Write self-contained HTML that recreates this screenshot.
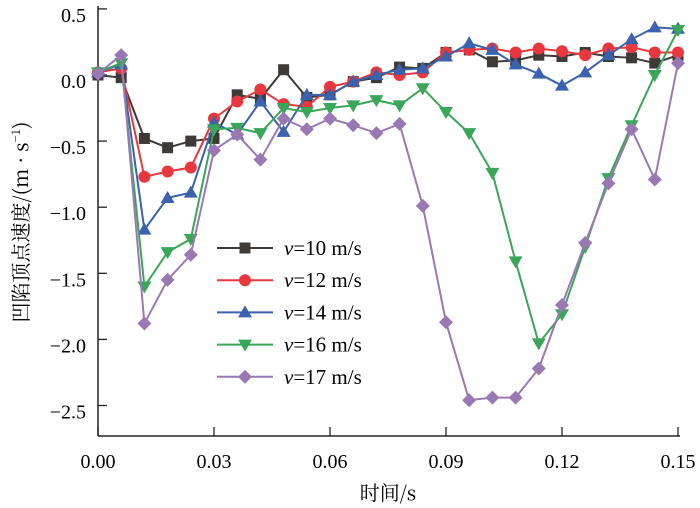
<!DOCTYPE html>
<html><head><meta charset="utf-8"><style>
body{margin:0;background:#fff}
svg{display:block}
text{font-family:"Liberation Serif","DejaVu Serif","Noto Serif CJK SC",serif}
.cjk{font-family:"Noto Serif CJK SC","Liberation Serif",serif}
</style></head><body>
<svg width="700" height="508" viewBox="0 0 700 508" font-family="Liberation Serif, serif">
<g id="axes"></g><g id="series"></g><g id="legend"></g>
<text class="cjk" x="388" y="500" text-anchor="middle" font-size="20">时间/s</text>
<text class="cjk" transform="translate(28,222) rotate(-90)" text-anchor="middle" font-size="20">凹陷顶点速度/(m · s<tspan dy="-8" font-size="12">−1</tspan><tspan dy="8">)</tspan></text>
</svg>
<script>
const times=[0,0.006,0.012,0.018,0.024,0.030,0.036,0.042,0.048,0.054,0.060,0.066,0.072,0.078,0.084,0.090,0.096,0.102,0.108,0.114,0.120,0.126,0.132,0.138,0.144,0.150];
const v10=[0,-0.02,-0.48,-0.55,-0.5,-0.48,-0.15,-0.18,0.04,-0.17,-0.15,-0.05,-0.02,0.06,0.05,0.17,0.19,0.1,0.11,0.15,0.14,0.17,0.14,0.13,0.09,0.15];
const v12=[0.02,0.05,-0.77,-0.73,-0.7,-0.33,-0.2,-0.11,-0.22,-0.24,-0.09,-0.05,0.02,0,0.02,0.17,0.19,0.2,0.17,0.2,0.18,0.15,0.2,0.21,0.17,0.17];
const v14=[0.02,0.08,-1.17,-0.93,-0.89,-0.36,-0.45,-0.2,-0.43,-0.15,-0.15,-0.05,0,0.04,0.05,0.14,0.24,0.19,0.08,0.01,-0.08,0.02,0.15,0.27,0.36,0.35];
const v16=[0.02,0.09,-1.6,-1.34,-1.24,-0.41,-0.4,-0.44,-0.25,-0.28,-0.25,-0.23,-0.19,-0.23,-0.1,-0.28,-0.44,-0.74,-1.41,-2.03,-1.81,-1.3,-0.78,-0.38,0,0.34];
const v17=[0.01,0.15,-1.88,-1.55,-1.36,-0.57,-0.45,-0.64,-0.33,-0.41,-0.33,-0.38,-0.44,-0.37,-0.99,-1.87,-2.46,-2.44,-2.44,-2.22,-1.74,-1.27,-0.82,-0.41,-0.79,0.09];
const seriesLabels=["10","12","14","16","17"];
const xTicks=[0,0.03,0.06,0.09,0.12,0.15];
const xTickLabels=["0.00","0.03","0.06","0.09","0.12","0.15"];
const yTicks=[0.5,0,-0.5,-1,-1.5,-2,-2.5];
const yTickLabels=["0.5","0.0","−0.5","−1.0","−1.5","−2.0","−2.5"];
const NS="http://www.w3.org/2000/svg";
const X=t=>98+t/0.15*580;
const Y=v=>75-v*132.2;
function mk(tag,attrs,parent){const e=document.createElementNS(NS,tag);for(const k in attrs)e.setAttribute(k,attrs[k]);parent.appendChild(e);return e;}
const ax=document.getElementById('axes');
let l=mk('line',{x1:98,y1:6,x2:98,y2:436,stroke:'#222','stroke-width':1.5},ax);


l=mk('line',{x1:98,y1:436,x2:680,y2:436,stroke:'#222','stroke-width':1.5},ax);


xTicks.forEach((t,i)=>{
 mk('line',{x1:X(t),y1:436,x2:X(t),y2:427,stroke:'#222','stroke-width':1.3},ax);
 const tx=mk('text',{x:X(t),y:468,'text-anchor':'middle','font-size':20},ax);tx.textContent=xTickLabels[i];
 
 
});
yTicks.forEach((v,i)=>{
 mk('line',{x1:98,y1:Y(v),x2:107,y2:Y(v),stroke:'#222','stroke-width':1.3},ax);
 const tx=mk('text',{x:86,y:Y(v)+13,'text-anchor':'end','font-size':20},ax);tx.textContent=yTickLabels[i];
 
 
});
const colors=['#3d3a38','#e8383d','#3a62ad','#3aa65a','#9a78b4'];
const shapes=['square','circle','tri','tridown','diamond'];
const data=[v10,v12,v14,v16,v17];
function marker(shape,x,y,c,p){
 if(shape==='square')return mk('rect',{x:x-5.5,y:y-5.5,width:11,height:11,fill:c},p);
 if(shape==='circle')return mk('circle',{cx:x,cy:y,r:6,fill:c},p);
 if(shape==='tri')return mk('polygon',{points:`${x},${y-7} ${x-7},${y+5} ${x+7},${y+5}`,fill:c},p);
 if(shape==='tridown')return mk('polygon',{points:`${x},${y+7} ${x-7},${y-5} ${x+7},${y-5}`,fill:c},p);
 return mk('polygon',{points:`${x},${y-7} ${x+7},${y} ${x},${y+7} ${x-7},${y}`,fill:c},p);
}
const sg=document.getElementById('series'),lg=document.getElementById('legend');
data.forEach((vals,s)=>{
 const g=mk('g',{},sg);
 
 
 mk('polyline',{points:vals.map((v,i)=>X(times[i])+','+Y(v)).join(' '),fill:'none',stroke:colors[s],'stroke-width':2},g);
 vals.forEach((v,i)=>{const m=marker(shapes[s],X(times[i]),Y(v),colors[s],g);
  
  });
 const ly=248+s*32.2;
 const le=mk('g',{},lg);
 
 
 mk('line',{x1:217,y1:ly,x2:273,y2:ly,stroke:colors[s],'stroke-width':2},le);
 marker(shapes[s],245,ly,colors[s],le);
 const t=mk('text',{x:284,y:ly+7,'font-size':21},le);
 t.innerHTML='<tspan font-style="italic">v</tspan>=' + seriesLabels[s] + ' m/s';
});
</script>
</body></html>
